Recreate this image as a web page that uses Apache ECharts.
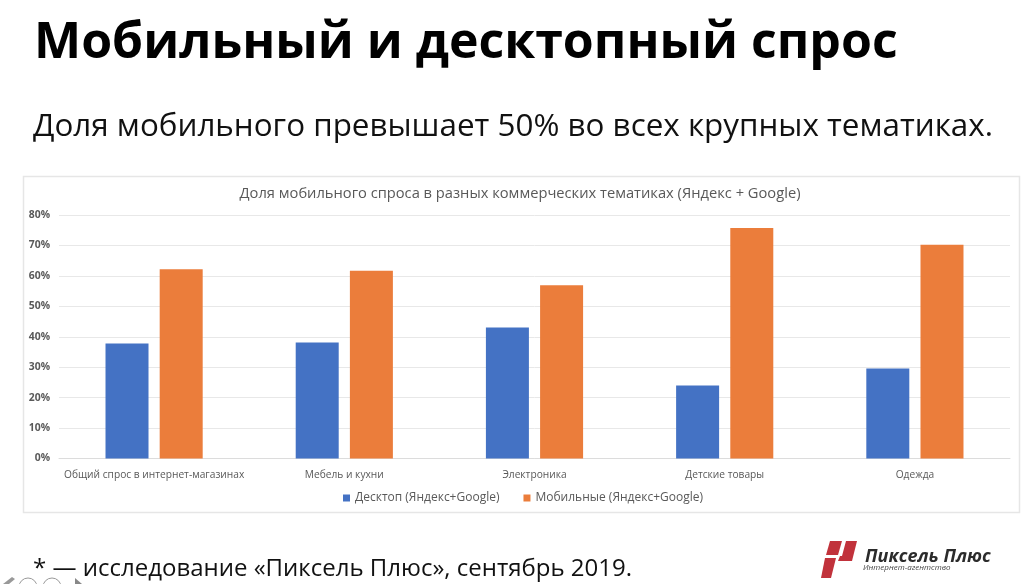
<!DOCTYPE html>
<html>
<head>
<meta charset="utf-8">
<style>
html, body { margin: 0; padding: 0; background: #fff; }
#chart { width: 1023px; height: 584px; }
</style>
<script src="https://cdn.jsdelivr.net/npm/echarts@6/dist/echarts.min.js"></script>
</head>
<body>
<div id="chart"></div>
<script>
var categories = ['Общий спрос в интернет-магазинах', 'Мебель и кухни', 'Электроника', 'Детские товары', 'Одежда'];
var desktop = [37.8, 38.1, 43, 24, 29.6];
var mobile = [62.2, 61.7, 56.9, 75.7, 70.2];
var seriesNames = ['Десктоп (Яндекс+Google)', 'Мобильные (Яндекс+Google)'];

var font = '"Open Sans", "Noto Sans", sans-serif';
var myChart = echarts.init(document.getElementById('chart'));

// slide texts, frame and logo around the chart
var slide = [
    { type: 'rect', shape: { x: 23.5, y: 176.5, width: 996, height: 336 }, style: { fill: '#fff', stroke: '#e6e6e6', lineWidth: 1.5 }, z: -1 },
    { type: 'text', x: 34, y: 44, style: { text: 'Мобильный и десктопный спрос', font: 'bold 50px ' + font, fill: '#000', textVerticalAlign: 'middle' } },
    { type: 'text', x: 33, y: 127, style: { text: 'Доля мобильного превышает 50% во всех крупных тематиках.', font: '31.4px ' + font, fill: '#111', textVerticalAlign: 'middle' } },
    { type: 'text', x: 33, y: 569, style: { text: '* — исследование «Пиксель Плюс», сентябрь 2019.', font: '24px ' + font, fill: '#111', textVerticalAlign: 'middle' } },
    { type: 'polygon', shape: { points: [[830, 541], [842, 541], [838, 555], [826, 555]] }, style: { fill: '#c1323b' } },
    { type: 'polygon', shape: { points: [[825, 558], [836, 558], [831, 578], [821, 578]] }, style: { fill: '#c1323b' } },
    { type: 'polygon', shape: { points: [[846, 541], [857, 541], [852, 561], [838, 561], [840, 556], [842, 556]] }, style: { fill: '#c1323b' } },
    { type: 'text', x: 865, y: 557, style: { text: 'Пиксель Плюс', font: 'italic bold 18px ' + font, fill: '#2b2b2b', textVerticalAlign: 'middle' } },
    { type: 'text', x: 863, y: 568, style: { text: 'Интернет-агентство', font: 'italic 8px ' + font, fill: '#444', textVerticalAlign: 'middle' } },
    { type: 'circle', shape: { cx: 28, cy: 587, r: 9 }, style: { fill: '#fff', stroke: '#999', lineWidth: 1 } },
    { type: 'circle', shape: { cx: 52, cy: 587, r: 9 }, style: { fill: '#fff', stroke: '#999', lineWidth: 1 } },
    { type: 'polygon', shape: { points: [[75, 578], [82, 584], [75, 584]] }, style: { fill: '#888' } },
    { type: 'polygon', shape: { points: [[3, 584], [12, 577], [15, 579], [9, 584]] }, style: { fill: '#999' } }
];

var option = {
    backgroundColor: '#fff',
    animation: false,
    title: {
        text: 'Доля мобильного спроса в разных коммерческих тематиках (Яндекс + Google)',
        left: 515,
        top: 181.5,
        textAlign: 'center',
        textStyle: { fontFamily: font, fontSize: 14.7, fontWeight: 'normal', color: '#595959' }
    },
    legend: {
        left: 338,
        top: 487,
        itemWidth: 7,
        itemHeight: 7,
        itemGap: 24,
        icon: 'rect',
        textStyle: { fontFamily: font, fontSize: 12, color: '#595959' },
        data: seriesNames
    },
    grid: { left: 59, right: 13, top: 215, bottom: 125.5 },
    xAxis: {
        type: 'category',
        data: categories,
        axisTick: { show: false },
        axisLine: { lineStyle: { color: '#dcdcdc' } },
        axisLabel: { fontFamily: font, fontSize: 10.2, color: '#595959', margin: 12, interval: 0 }
    },
    yAxis: {
        type: 'value',
        min: 0,
        max: 80,
        interval: 10,
        axisLine: { show: false },
        axisTick: { show: false },
        splitLine: { lineStyle: { color: '#e8e8e8' } },
        axisLabel: { fontFamily: font, fontSize: 10.4, fontWeight: 'bold', color: '#595959', margin: 9, formatter: '{value}%' }
    },
    graphic: slide,
    series: [
        { name: seriesNames[0], type: 'bar', data: desktop, barWidth: 43, barGap: '26%', itemStyle: { color: '#4472c4' } },
        { name: seriesNames[1], type: 'bar', data: mobile, barWidth: 43, itemStyle: { color: '#eb7d3b' } }
    ]
};
myChart.setOption(option);
</script>
</body>
</html>
